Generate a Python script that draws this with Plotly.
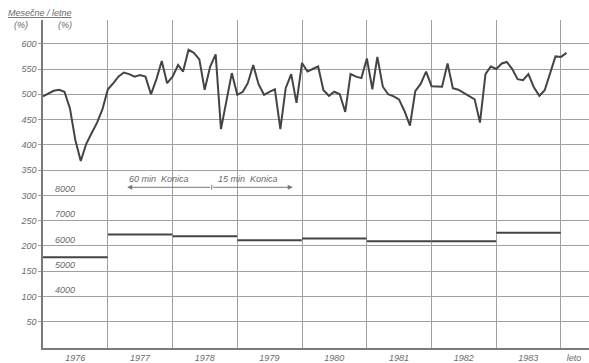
import pandas as pd
import plotly.graph_objects as go

# ---------------- data ----------------
monthly_values = [
    496, 502, 507, 509, 505, 472, 410, 368, 402, 423, 444, 470,   # 1976
    510, 522, 535, 543, 540, 535, 538, 535, 500, 529, 566, 522,   # 1977
    535, 558, 545, 588, 582, 569, 509, 555, 579, 431, 490, 542,   # 1978
    499, 505, 522, 558, 520, 499, 505, 510, 431, 512, 540, 483,   # 1979
    562, 545, 550, 555, 508, 497, 505, 500, 465, 540, 535, 532,   # 1980
    571, 510, 574, 515, 500, 496, 490, 467, 438, 506, 521, 545,   # 1981
    516, 515, 515, 561, 512, 509, 503, 496, 490, 444, 540, 555,   # 1982
    550, 561, 564, 550, 530, 528, 540, 514, 497, 508, 540, 575,   # 1983
    574, 582,                                                     # 1984
]
months = pd.date_range("1976-01-01", periods=len(monthly_values), freq="MS")

years = [1976, 1977, 1978, 1979, 1980, 1981, 1982, 1983]
annual_values = [5550, 6450, 6380, 6220, 6290, 6180, 6180, 6520]

left_ticks = [50, 100, 150, 200, 250, 300, 350, 400, 450, 500, 550, 600]
right_ticks = [4000, 5000, 6000, 7000, 8000]
year_labels = ["1976", "1977", "1978", "1979", "1980", "1981", "1982", "1983"]
unit_label = "leto"

# ---------------- style ----------------
GRID = "#a0a0a0"
INK = "#444444"
TXT = "#6a6a6a"
FONT = "Liberation Sans, DejaVu Sans"
FS = 9

fig = go.Figure()

fig.add_trace(go.Scatter(
    x=months, y=monthly_values, mode="lines",
    line=dict(color=INK, width=2), yaxis="y", showlegend=False,
    hoverinfo="skip",
))

# annual step segments (secondary scale)
ax_x, ax_y = [], []
for yr, v in zip(years, annual_values):
    ax_x += [pd.Timestamp(f"{yr}-01-01"), pd.Timestamp(f"{yr}-12-31"), None]
    ax_y += [v, v, None]
fig.add_trace(go.Scatter(
    x=ax_x, y=ax_y, mode="lines", line=dict(color=INK, width=2),
    yaxis="y2", showlegend=False, hoverinfo="skip",
))

# tick positions for year labels (mid-year) + unit label
tickvals = [pd.Timestamp(f"{y}-07-01") for y in years] + [pd.Timestamp("1984-03-15")]
ticktext = year_labels + [unit_label]

y_lo, y_hi = -2, 647
fig.update_layout(
    width=589, height=363,
    margin=dict(l=43, r=0, t=20, b=13),
    paper_bgcolor="white", plot_bgcolor="white",
    font=dict(family=FONT, size=FS, color=TXT, style="italic"),
    xaxis=dict(
        type="date",
        range=[pd.Timestamp("1976-01-01"), pd.Timestamp("1984-06-07")],
        tickvals=tickvals, ticktext=ticktext, ticks="",
        showgrid=False, zeroline=False,
        showline=True, linecolor="#7a7a7a", linewidth=1.5,
        minor=dict(dtick="M12", tick0="1976-01-01", showgrid=True,
                   gridcolor=GRID, gridwidth=1.3, ticks=""),
        tickfont=dict(size=FS, color=TXT),
    ),
    yaxis=dict(
        range=[y_lo, y_hi], tickvals=left_ticks,
        ticks="outside", ticklen=3, tickcolor=GRID,
        showgrid=True, gridcolor=GRID, gridwidth=1.3,
        zeroline=False, showline=True, linecolor="#7a7a7a", linewidth=1.5,
        tickfont=dict(size=FS, color=TXT),
    ),
    yaxis2=dict(
        overlaying="y", side="left",
        range=[y_lo * 20 + 2000, y_hi * 20 + 2000],
        tickvals=right_ticks, ticks="", showgrid=False, zeroline=False,
        showline=False, ticklabelposition="inside top", ticklabelstandoff=9,
        tickfont=dict(size=FS, color=TXT),
    ),
)

# header
fig.add_annotation(xref="paper", yref="paper", x=-37/546, y=1 + 7/330, xanchor="left",
                   yanchor="middle", text="<u>Mesečne / letne</u>", showarrow=False,
                   font=dict(size=FS, color=TXT))
fig.add_annotation(xref="paper", yref="paper", x=-31/546, y=1 - 5/330, xanchor="left",
                   yanchor="middle", text="(%)", showarrow=False, font=dict(size=FS, color=TXT))
fig.add_annotation(xref="paper", yref="paper", x=13/546, y=1 - 5/330, xanchor="left",
                   yanchor="middle", text="(%)", showarrow=False, font=dict(size=FS, color=TXT))

# film arrows
t_left = pd.Timestamp("1977-04-20")
t_mid = pd.Timestamp("1978-08-10")
t_right = pd.Timestamp("1979-11-10")
y_arrow = 316
for tip in (t_left, t_right):
    fig.add_annotation(x=tip, y=y_arrow, ax=t_mid, ay=y_arrow, xref="x", yref="y",
                       axref="x", ayref="y", text="", showarrow=True,
                       arrowhead=2, arrowsize=1, arrowwidth=1, arrowcolor="#777")
fig.add_annotation(x=t_mid, y=y_arrow, ax=0, ay=-4, text="", showarrow=True,
                   arrowhead=0, arrowwidth=1, arrowcolor="#777")
fig.add_annotation(x=t_mid, y=y_arrow, ax=0, ay=4, text="", showarrow=True,
                   arrowhead=0, arrowwidth=1, arrowcolor="#777")
fig.add_annotation(x=pd.Timestamp("1977-04-20"), y=332, xanchor="left", text="60 min  Konica",
                   showarrow=False, font=dict(size=FS, color=TXT))
fig.add_annotation(x=pd.Timestamp("1978-09-01"), y=332, xanchor="left", text="15 min  Konica",
                   showarrow=False, font=dict(size=FS, color=TXT))

fig.write_html("out.html", config={"displayModeBar": False},
               post_script="document.body.style.margin='0';document.body.style.overflow='hidden';")
